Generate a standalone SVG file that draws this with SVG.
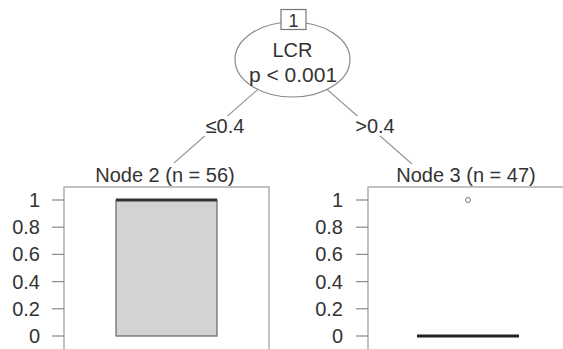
<svg xmlns="http://www.w3.org/2000/svg" width="563" height="349" viewBox="0 0 563 349">
<style>
text{font-family:"Liberation Sans",Arial,sans-serif;fill:#333;font-size:20px}
.edge{stroke:#999;stroke-width:1.2;fill:none}
.panel{fill:#fff;stroke:#999;stroke-width:1.2}
.tick{stroke:#888;stroke-width:1.2}
.ylab{text-anchor:end}
.mid{text-anchor:middle}
</style>
<rect width="563" height="349" fill="#fff"/>
<g id="connectors">
<line class="edge" x1="292.5" y1="59" x2="174" y2="163"/>
<line class="edge" x1="292.5" y1="59" x2="412" y2="164"/>
<rect x="201" y="116" width="48" height="20" fill="#fff"/>
<rect x="351" y="116" width="48" height="20" fill="#fff"/>
<text class="mid" x="225" y="133">≤0.4</text>
<text class="mid" x="375" y="133">&gt;0.4</text>
</g>
<g id="node1">
<ellipse cx="292.5" cy="59.5" rx="57.5" ry="37.5" fill="#fff" stroke="#888" stroke-width="1.2"/>
<rect x="281" y="9.5" width="25" height="20" fill="#fff" stroke="#777" stroke-width="1.2"/>
<text class="mid" x="293.5" y="26.5" style="font-size:18px">1</text>
<text class="mid" x="292.5" y="57">LCR</text>
<text class="mid" x="293" y="82" style="font-size:21px">p &lt; 0.001</text>
</g>
<g id="node2">
<text class="mid" x="165" y="182">Node 2 (n = 56)</text>
<rect class="panel" x="64" y="187" width="205" height="170"/>
<g class="tick">
<line x1="52" y1="200" x2="64" y2="200"/>
<line x1="52" y1="227.2" x2="64" y2="227.2"/>
<line x1="52" y1="254.4" x2="64" y2="254.4"/>
<line x1="52" y1="281.6" x2="64" y2="281.6"/>
<line x1="52" y1="308.8" x2="64" y2="308.8"/>
<line x1="52" y1="336" x2="64" y2="336"/>
</g>
<text class="ylab" x="40" y="207">1</text>
<text class="ylab" x="40" y="234.2">0.8</text>
<text class="ylab" x="40" y="261.4">0.6</text>
<text class="ylab" x="40" y="288.6">0.4</text>
<text class="ylab" x="40" y="315.8">0.2</text>
<text class="ylab" x="40" y="343">0</text>
<rect x="116" y="200" width="101" height="136" fill="#d3d3d3" stroke="#666" stroke-width="1.2"/>
<line x1="116" y1="200" x2="217" y2="200" stroke="#333" stroke-width="3"/>
</g>
<g id="node3">
<text class="mid" x="466" y="182">Node 3 (n = 47)</text>
<rect class="panel" x="368" y="187" width="205" height="170"/>
<g class="tick">
<line x1="356" y1="200" x2="368" y2="200"/>
<line x1="356" y1="227.2" x2="368" y2="227.2"/>
<line x1="356" y1="254.4" x2="368" y2="254.4"/>
<line x1="356" y1="281.6" x2="368" y2="281.6"/>
<line x1="356" y1="308.8" x2="368" y2="308.8"/>
<line x1="356" y1="336" x2="368" y2="336"/>
</g>
<text class="ylab" x="343" y="207">1</text>
<text class="ylab" x="343" y="234.2">0.8</text>
<text class="ylab" x="343" y="261.4">0.6</text>
<text class="ylab" x="343" y="288.6">0.4</text>
<text class="ylab" x="343" y="315.8">0.2</text>
<text class="ylab" x="343" y="343">0</text>
<circle cx="468" cy="200" r="2.5" fill="none" stroke="#777" stroke-width="1"/>
<line x1="417" y1="336" x2="519" y2="336" stroke="#222" stroke-width="3"/>
</g>
</svg>
